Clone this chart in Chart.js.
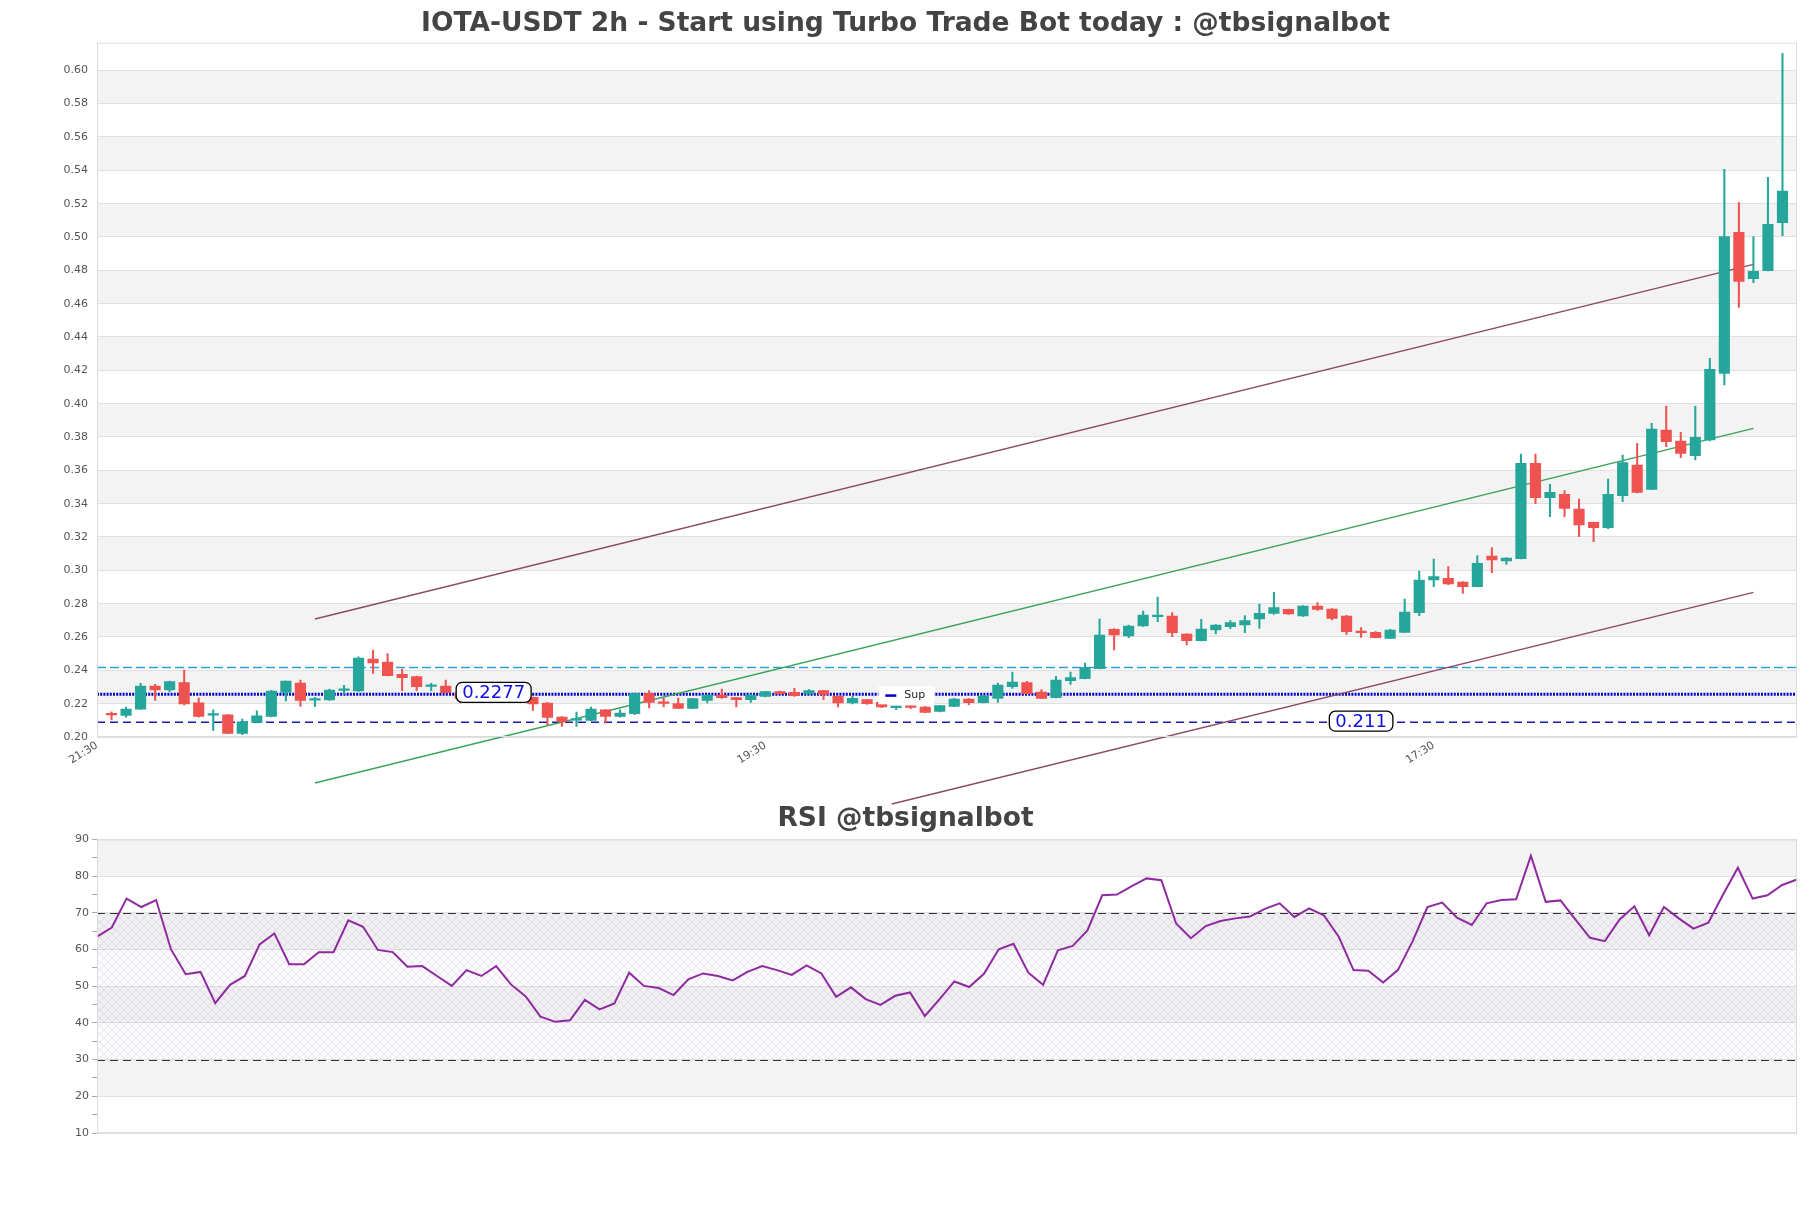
<!DOCTYPE html>
<html>
<head>
<meta charset="utf-8">
<script src="https://cdn.jsdelivr.net/npm/chart.js@4.4.1/dist/chart.umd.min.js"></script>
<style>
  body { margin: 0; background: #fff; width: 1811px; height: 1208px; overflow: hidden; position: relative; }
  #pbox { position: absolute; left: 0; top: 0; width: 1811px; height: 820px; }
  #rbox { position: absolute; left: 0; top: 790px; width: 1811px; height: 418px; }
</style>
</head>
<body>
<div id="pbox"><canvas id="priceChart" width="1811" height="820"></canvas></div>
<div id="rbox"><canvas id="rsiChart" width="1811" height="418"></canvas></div>
<script>
// candles (2h)
const opens = [0.2138,0.2129,0.2167,0.2306,0.2282,0.2326,0.2205,0.2131,0.2133,0.2022,
  0.2087,0.2123,0.2268,0.2324,0.2221,0.2223,0.2280,0.2276,0.2467,0.2449,
  0.2376,0.2362,0.2304,0.2306,0.2266,0.2232,0.2244,0.2250,0.2236,0.2238,
  0.2203,0.2119,0.2101,0.2099,0.2163,0.2123,0.2140,0.2260,0.2206,0.2200,
  0.2172,0.2220,0.2252,0.2236,0.2224,0.2244,0.2272,0.2268,0.2260,0.2278,
  0.2244,0.2204,0.2224,0.2208,0.2176,0.2182,0.2180,0.2154,0.2184,0.2228,
  0.2206,0.2232,0.2302,0.2326,0.2270,0.2236,0.2338,0.2350,0.2410,0.2646,
  0.2606,0.2666,0.2722,0.2726,0.2618,0.2578,0.2642,0.2662,0.2672,0.2708,
  0.2742,0.2766,0.2726,0.2786,0.2768,0.2726,0.2630,0.2628,0.2592,0.2628,
  0.2746,0.2942,0.2952,0.2930,0.2902,0.3086,0.3056,0.3070,0.3642,0.3436,
  0.3456,0.3368,0.3288,0.3256,0.3448,0.3632,0.3486,0.3842,0.3776,0.3688,
  0.3782,0.4182,0.5028,0.4750,0.4798,0.5086];
const highs = [0.2151,0.2179,0.2322,0.2316,0.2336,0.2401,0.2234,0.2163,0.2135,0.2107,
  0.2157,0.2280,0.2336,0.2342,0.2238,0.2288,0.2310,0.2481,0.2521,0.2501,
  0.2407,0.2366,0.2322,0.2342,0.2270,0.2252,0.2262,0.2258,0.2250,0.2240,
  0.2207,0.2123,0.2149,0.2179,0.2165,0.2163,0.2264,0.2278,0.2234,0.2234,
  0.2232,0.2256,0.2288,0.2238,0.2254,0.2274,0.2276,0.2292,0.2284,0.2280,
  0.2246,0.2244,0.2226,0.2212,0.2186,0.2186,0.2184,0.2190,0.2232,0.2230,
  0.2250,0.2324,0.2390,0.2334,0.2284,0.2364,0.2390,0.2443,0.2708,0.2650,
  0.2672,0.2756,0.2840,0.2746,0.2620,0.2706,0.2674,0.2698,0.2728,0.2798,
  0.2868,0.2768,0.2788,0.2806,0.2770,0.2730,0.2656,0.2632,0.2646,0.2828,
  0.2996,0.3068,0.3022,0.2932,0.3088,0.3136,0.3076,0.3698,0.3698,0.3516,
  0.3478,0.3428,0.3290,0.3548,0.3692,0.3762,0.3882,0.3986,0.3828,0.3986,
  0.4272,0.5406,0.5206,0.5002,0.5358,0.6102];
const lows = [0.2103,0.2119,0.2165,0.2219,0.2272,0.2193,0.2119,0.2040,0.2020,0.2014,
  0.2085,0.2121,0.2217,0.2183,0.2183,0.2219,0.2258,0.2274,0.2381,0.2366,
  0.2278,0.2278,0.2278,0.2264,0.2205,0.2222,0.2236,0.2228,0.2226,0.2159,
  0.2074,0.2064,0.2064,0.2097,0.2083,0.2119,0.2134,0.2174,0.2180,0.2170,
  0.2170,0.2204,0.2232,0.2180,0.2208,0.2240,0.2258,0.2244,0.2258,0.2224,
  0.2180,0.2198,0.2196,0.2176,0.2164,0.2170,0.2146,0.2150,0.2182,0.2194,
  0.2204,0.2208,0.2292,0.2260,0.2230,0.2234,0.2316,0.2348,0.2408,0.2522,
  0.2596,0.2664,0.2692,0.2602,0.2552,0.2576,0.2618,0.2650,0.2626,0.2652,
  0.2736,0.2736,0.2724,0.2760,0.2702,0.2616,0.2598,0.2594,0.2590,0.2626,
  0.2728,0.2902,0.2914,0.2862,0.2900,0.2986,0.3036,0.3068,0.3400,0.3322,
  0.3322,0.3202,0.3172,0.3250,0.3412,0.3464,0.3484,0.3742,0.3676,0.3662,
  0.3776,0.4112,0.4578,0.4726,0.4796,0.5008];
const closes = [0.2133,0.2167,0.2306,0.2282,0.2332,0.2199,0.2123,0.2135,0.2022,0.2091,
  0.2127,0.2276,0.2336,0.2219,0.2223,0.2282,0.2283,0.2473,0.2445,0.2368,
  0.2356,0.2302,0.2306,0.2266,0.2232,0.2244,0.2250,0.2236,0.2240,0.2199,
  0.2117,0.2093,0.2105,0.2167,0.2123,0.2143,0.2260,0.2208,0.2202,0.2172,
  0.2230,0.2252,0.2236,0.2224,0.2252,0.2272,0.2260,0.2248,0.2278,0.2256,
  0.2204,0.2232,0.2200,0.2180,0.2182,0.2178,0.2148,0.2188,0.2228,0.2206,
  0.2246,0.2312,0.2330,0.2260,0.2232,0.2342,0.2356,0.2416,0.2612,0.2612,
  0.2666,0.2732,0.2724,0.2626,0.2578,0.2648,0.2672,0.2686,0.2698,0.2742,
  0.2776,0.2738,0.2786,0.2766,0.2712,0.2632,0.2626,0.2596,0.2642,0.2750,
  0.2942,0.2962,0.2918,0.2902,0.3042,0.3062,0.3074,0.3642,0.3436,0.3468,
  0.3372,0.3272,0.3256,0.3456,0.3646,0.3468,0.3848,0.3772,0.3702,0.3798,
  0.4206,0.5002,0.4734,0.4794,0.5076,0.5276];

// RSI(14)
const rsi = [63.5,66.0,73.9,71.6,73.5,60.1,53.3,53.9,45.4,50.4,
  52.8,61.4,64.4,56.0,56.0,59.3,59.3,68.0,66.2,59.9,
  59.3,55.3,55.5,52.8,50.1,54.4,52.8,55.5,50.5,47.2,
  41.7,40.3,40.7,46.3,43.7,45.3,53.7,50.1,49.5,47.6,
  51.9,53.5,52.8,51.6,53.9,55.5,54.4,53.1,55.7,53.5,
  47.1,49.7,46.5,44.9,47.4,48.3,41.9,46.5,51.3,49.8,
  53.4,60.1,61.6,53.7,50.4,59.8,61.0,65.2,74.8,75.0,
  77.3,79.4,78.9,67.1,63.1,66.4,67.8,68.5,69.0,71.1,
  72.6,68.9,71.2,69.3,63.5,54.4,54.2,51.0,54.4,62.3,
  71.6,72.8,68.7,66.7,72.6,73.5,73.7,85.6,73.0,73.4,
  68.2,63.2,62.3,68.2,71.8,63.9,71.6,68.5,65.7,67.3,
  75.0,82.3,73.9,74.8,77.6,79.1];

// x axis ticks (candle index -> time)
const tickIndex = [-1, 45, 91];
const tickLabels = ['21:30', '19:30', '17:30'];

// horizontal levels
const resistance = 0.2417;
const support = 0.2256;
const lowSupport = 0.2089;
const supportLabel = '0.2277';
const lowSupportLabel = '0.211';

// trend channel: [index, price]
const upperTrend = [[14, 0.2708], [113, 0.4835]];
const midTrend = [[14, 0.1724], [113, 0.3851]];
const lowerTrend = [[53.7, 0.1598], [113, 0.2867]];

const N = closes.length;
const GREEN = '#26a69a', RED = '#ef5350';
const FONT = 'DejaVu Sans';
const candleColor = c => closes[c.dataIndex] >= opens[c.dataIndex] ? GREEN : RED;
const pts = arr => arr.map(p => ({ x: p[0], y: p[1] }));

// empty right axis, keeps a 14px margin without shifting the title
const spacer = {
  position: 'right',
  afterFit: s => { s.width = 14; },
  grid: { display: false, drawTicks: false },
  border: { display: false },
  ticks: { display: false }
};

// grey bands between every other grid line
const bands = {
  id: 'bands',
  beforeDraw(chart, args, opts) {
    const { ctx, chartArea: a, scales: { y } } = chart;
    ctx.save();
    ctx.fillStyle = '#f3f3f3';
    for (let k = 0; y.min + k * opts.step < y.max - 1e-9; k++) {
      if (k % 2 !== 1) continue;
      const v1 = y.min + k * opts.step, v2 = Math.min(v1 + opts.step, y.max);
      const p1 = y.getPixelForValue(v1), p2 = y.getPixelForValue(v2);
      ctx.fillRect(a.left, p2, a.right - a.left, p1 - p2);
    }
    ctx.restore();
  },
  afterDraw(chart) {
    const { ctx, chartArea: a } = chart;
    ctx.save();
    ctx.strokeStyle = '#dcdcdc';
    ctx.lineWidth = 1;
    ctx.strokeRect(a.left + 0.5, a.top + 0.5, a.right - a.left - 1, a.bottom - a.top - 1);
    ctx.restore();
  }
};

function tagBox(ctx, text, cx, cy) {
  ctx.font = '18px "' + FONT + '"';
  const w = ctx.measureText(text).width + 12, h = 20;
  ctx.beginPath();
  ctx.roundRect(cx - w / 2, cy - h / 2, w, h, 6);
  ctx.fillStyle = '#fff';
  ctx.fill();
  ctx.lineWidth = 1.3;
  ctx.strokeStyle = '#000';
  ctx.stroke();
  ctx.fillStyle = '#1010e0';
  ctx.textAlign = 'center';
  ctx.textBaseline = 'middle';
  ctx.fillText(text, cx, cy + 1);
}

// price tags and the "Sup" legend box
const tags = {
  id: 'tags',
  afterDatasetsDraw(chart) {
    const { ctx, scales: { x, y } } = chart;
    ctx.save();
    tagBox(ctx, supportLabel, x.getPixelForValue(26.3), y.getPixelForValue(support) - 2);
    tagBox(ctx, lowSupportLabel, x.getPixelForValue(86), y.getPixelForValue(lowSupport) - 1);

    const lx = x.getPixelForValue(54.7), ly = y.getPixelForValue(support) + 1;
    ctx.fillStyle = '#fff';
    ctx.fillRect(lx - 28, ly - 9, 56, 18);
    ctx.fillStyle = '#0000c8';
    ctx.fillRect(lx - 21, ly - 1, 11, 2.5);
    ctx.fillStyle = '#222';
    ctx.font = '11px "' + FONT + '"';
    ctx.textAlign = 'left';
    ctx.textBaseline = 'middle';
    ctx.fillText('Sup', lx - 2, ly);
    ctx.restore();
  }
};

new Chart(document.getElementById('priceChart'), {
  type: 'bar',
  data: {
    datasets: [
      {
        label: 'body',
        data: opens.map((o, i) => ({ x: i, y: [o, closes[i]] })),
        backgroundColor: candleColor,
        barThickness: 10.5,
        minBarLength: 1.5,
        grouped: false,
        order: 1
      },
      {
        label: 'wick',
        data: lows.map((l, i) => ({ x: i, y: [l, highs[i]] })),
        backgroundColor: candleColor,
        barThickness: 1.4,
        grouped: false,
        order: 2
      },
      { type: 'line', label: 'res', data: pts([[-1, resistance], [N, resistance]]), borderColor: '#2a9fd8', borderWidth: 1.5, borderDash: [9, 4], pointRadius: 0, order: 5 },
      { type: 'line', label: 'Sup', data: pts([[-1, support], [N, support]]), borderColor: '#0000c8', borderWidth: 3, borderDash: [2, 1.2], pointRadius: 0, order: 5 },
      { type: 'line', label: 'low', data: pts([[-1, lowSupport], [N, lowSupport]]), borderColor: '#1c1cb0', borderWidth: 1.5, borderDash: [8, 5], pointRadius: 0, order: 5 },
      { type: 'line', label: 'up', data: pts(upperTrend), borderColor: '#8a4a66', borderWidth: 1.3, pointRadius: 0, clip: false, order: 4 },
      { type: 'line', label: 'mid', data: pts(midTrend), borderColor: '#3aa35a', borderWidth: 1.3, pointRadius: 0, clip: false, order: 4 },
      { type: 'line', label: 'lowtr', data: pts(lowerTrend), borderColor: '#8a4a66', borderWidth: 1.3, pointRadius: 0, clip: false, order: 4 }
    ]
  },
  options: {
    responsive: false,
    animation: false,
    devicePixelRatio: 1,
    layout: { padding: 0 },
    plugins: {
      legend: { display: false },
      tooltip: { enabled: false },
      bands: { step: 0.02 },
      title: {
        display: true,
        text: 'IOTA-USDT 2h - Start using Turbo Trade Bot today : @tbsignalbot',
        color: '#444',
        font: { family: FONT, size: 26.5, weight: 'bold' },
        padding: { top: 8, bottom: 3 }
      }
    },
    scales: {
      x: {
        type: 'linear',
        min: -1,
        max: N,
        offset: false,
        grid: { display: false, drawTicks: false },
        border: { display: false },
        afterBuildTicks: s => { s.ticks = tickIndex.map(v => ({ value: v })); },
        afterFit: s => { s.height = 83; },
        ticks: {
          autoSkip: false,
          minRotation: 32,
          maxRotation: 32,
          padding: 2,
          color: '#555',
          font: { family: FONT, size: 11 },
          callback: v => { const k = tickIndex.indexOf(v); return k >= 0 ? tickLabels[k] : ''; }
        }
      },
      y: {
        min: 0.20,
        max: 0.6165,
        border: { display: false },
        grid: { color: '#e0e0e0', drawTicks: false },
        afterFit: s => { s.width = 97; },
        afterBuildTicks: s => { s.ticks = s.ticks.filter(t => Math.abs(t.value * 50 - Math.round(t.value * 50)) < 1e-6); },
        ticks: {
          stepSize: 0.02,
          padding: 9,
          color: '#555',
          font: { family: FONT, size: 11 },
          callback: v => v.toFixed(2)
        }
      },
      yr: spacer
    }
  },
  plugins: [bands, tags]
});

// crosshatch for the 30-70 zone
const hatch = document.createElement('canvas');
hatch.width = hatch.height = 8;
const hg = hatch.getContext('2d');
hg.strokeStyle = 'rgba(170,140,185,0.24)';
hg.lineWidth = 0.8;
hg.beginPath();
hg.moveTo(0, 0); hg.lineTo(8, 8);
hg.moveTo(8, 0); hg.lineTo(0, 8);
hg.stroke();

const rsiZone = {
  id: 'rsiZone',
  beforeDatasetsDraw(chart) {
    const { ctx, chartArea: a, scales: { y } } = chart;
    const top = y.getPixelForValue(70), bot = y.getPixelForValue(30);
    ctx.save();
    ctx.fillStyle = 'rgba(200,170,220,0.05)';
    ctx.fillRect(a.left, top, a.right - a.left, bot - top);
    ctx.fillStyle = ctx.createPattern(hatch, 'repeat');
    ctx.fillRect(a.left, top, a.right - a.left, bot - top);
    ctx.strokeStyle = '#333';
    ctx.lineWidth = 1.2;
    ctx.setLineDash([8, 5]);
    [top, bot].forEach(p => {
      ctx.beginPath();
      ctx.moveTo(a.left, Math.round(p) + 0.5);
      ctx.lineTo(a.right, Math.round(p) + 0.5);
      ctx.stroke();
    });
    ctx.restore();
  }
};

new Chart(document.getElementById('rsiChart'), {
  type: 'line',
  data: {
    labels: rsi.map((_, i) => i),
    datasets: [{
      label: 'RSI',
      data: rsi,
      borderColor: '#8e2ba0',
      borderWidth: 2,
      pointRadius: 0,
      tension: 0
    }]
  },
  options: {
    responsive: false,
    animation: false,
    devicePixelRatio: 1,
    layout: { padding: { left: 0, right: 0, top: 0, bottom: 75 } },
    plugins: {
      legend: { display: false },
      tooltip: { enabled: false },
      bands: { step: 10 },
      title: {
        display: true,
        text: 'RSI @tbsignalbot',
        color: '#444',
        font: { family: FONT, size: 26.5, weight: 'bold' },
        padding: { top: 13, bottom: 4.7 }
      }
    },
    scales: {
      x: { display: false, offset: false },
      y: {
        min: 10,
        max: 90,
        border: { display: false },
        grid: {
          color: c => c.tick && c.tick.value % 10 === 0 ? '#e0e0e0' : 'rgba(0,0,0,0)',
          tickColor: '#aaa',
          tickLength: 5
        },
        afterFit: s => { s.width = 97; },
        ticks: {
          stepSize: 5,
          autoSkip: false,
          padding: 3,
          color: '#555',
          font: { family: FONT, size: 11 },
          callback: v => v % 10 === 0 ? v : ''
        }
      },
      yr: spacer
    }
  },
  plugins: [bands, rsiZone]
});
</script>
</body>
</html>
